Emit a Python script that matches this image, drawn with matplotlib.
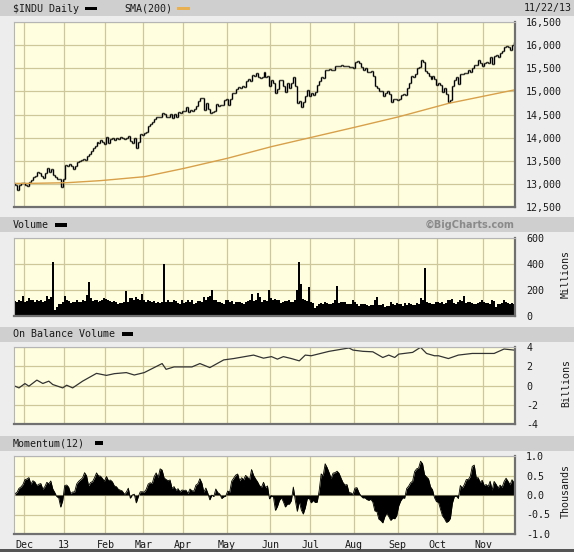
import numpy as np
import pandas as pd
import matplotlib
matplotlib.use("Agg")
import matplotlib.pyplot as plt
from matplotlib.patches import Rectangle

plt.rcParams["font.family"] = ["DejaVu Sans Mono"]
plt.rcParams["font.size"] = 7.2
plt.rcParams["axes.unicode_minus"] = False

# trading sessions 26 Nov 2012 .. 22 Nov 2013
holidays = ["2012-12-25", "2013-01-01", "2013-01-21", "2013-02-18",
            "2013-03-29", "2013-05-27", "2013-07-04", "2013-09-02"]
dates = pd.bdate_range("2012-11-26", "2013-11-22", freq="C", holidays=holidays)

# 12 closes before the first session (needed for momentum / first open)
prior_close = [12932.7, 12811.3, 12815.4, 12815.1, 12756.2, 12571.0,
               12542.4, 12588.3, 12796.0, 12788.5, 12836.9, 13009.7]

close = [
    # Nov
    12967.4, 12878.1, 12985.1, 13021.8, 13025.6,
    # Dec
    12965.6, 12951.8, 13034.5, 13074.0, 13155.1, 13169.9, 13248.4, 13245.5, 13170.7, 13135.0,
    13235.4, 13351.0, 13252.0, 13311.7, 13190.8, 13139.1, 13114.6, 13096.3, 12938.1, 13104.1,
    # Jan
    13412.6, 13391.4, 13435.2, 13384.3, 13328.9, 13390.5, 13471.2, 13488.4, 13507.3, 13534.9,
    13511.2, 13596.0, 13649.7, 13712.2, 13779.3, 13825.3, 13896.0, 13881.9, 13954.4, 13910.4, 13860.6,
    # Feb
    14009.8, 13880.1, 13979.3, 13986.5, 13944.1, 13993.0, 13971.2, 14018.7, 13982.9, 13973.4,
    13981.8, 14035.7, 13927.5, 13880.6, 14000.6, 13784.2, 13900.1, 14075.4, 14054.5,
    # Mar
    14089.7, 14127.8, 14253.8, 14296.2, 14329.5, 14397.1, 14447.3, 14450.1, 14455.3, 14539.1,
    14514.1, 14452.1, 14455.8, 14511.7, 14421.5, 14512.0, 14447.8, 14559.7, 14526.2, 14578.5,
    # Apr
    14572.9, 14662.0, 14550.4, 14606.1, 14565.3, 14613.5, 14673.5, 14802.2, 14865.1, 14865.1,
    14599.2, 14756.8, 14618.6, 14537.1, 14547.5, 14567.2, 14719.5, 14676.3, 14700.8, 14712.6,
    14818.8, 14839.8,
    # May
    14701.0, 14831.6, 14974.0, 14968.9, 15056.2, 15105.1, 15082.6, 15118.5, 15091.7, 15215.3,
    15275.7, 15233.2, 15354.4, 15335.3, 15387.6, 15307.2, 15294.5, 15303.1, 15409.4, 15302.8,
    15324.5, 15115.6,
    # Jun
    15254.0, 15177.5, 14960.6, 15040.6, 15248.1, 15238.6, 15122.0, 14995.2, 15176.1, 15070.2,
    15179.9, 15318.2, 15112.2, 14758.3, 14799.4, 14659.6, 14760.3, 14910.1, 15024.5, 14909.6,
    # Jul
    14975.0, 14932.4, 14988.4, 15135.8, 15224.7, 15300.3, 15291.7, 15460.9, 15464.3, 15484.3,
    15451.9, 15470.5, 15548.5, 15543.7, 15545.6, 15567.7, 15542.2, 15555.6, 15558.8, 15522.0,
    15520.6, 15499.5,
    # Aug
    15628.0, 15658.4, 15612.1, 15518.7, 15470.7, 15498.3, 15425.5, 15419.7, 15451.0, 15337.7,
    15112.2, 15081.5, 15010.7, 15003.0, 14897.6, 14963.7, 15010.5, 14946.5, 14776.1, 14824.5,
    14841.0, 14810.3,
    # Sep
    14834.0, 14930.9, 14937.5, 14922.5, 15063.1, 15191.1, 15326.6, 15300.6, 15376.1, 15494.8,
    15529.7, 15676.9, 15636.6, 15451.1, 15401.4, 15334.6, 15273.3, 15328.3, 15258.2, 15129.7,
    # Oct
    15191.7, 15133.1, 14996.5, 15072.6, 14936.2, 14776.5, 14803.0, 15126.1, 15237.1, 15301.3,
    15168.0, 15373.8, 15371.7, 15399.7, 15392.2, 15467.7, 15413.3, 15509.2, 15570.3, 15568.9,
    15680.4, 15618.8, 15545.8,
    # Nov
    15615.6, 15639.1, 15618.2, 15746.9, 15594.0, 15761.8, 15783.1, 15750.7, 15821.6, 15876.2,
    15961.7, 15976.0, 15967.0, 15900.8, 16010.0, 16064.8,
]

# volume, millions
volume = [
    115, 110, 125, 115, 155,
    110, 115, 140, 125, 120, 110, 120, 115, 120, 110, 115, 155, 130, 150, 415, 45, 70, 90, 95, 110,
    155, 120, 115, 100, 110, 110, 120, 105, 110, 120, 115, 160, 263, 140, 115, 120, 125, 110, 115, 120, 140,
    130, 120, 115, 110, 115, 105, 95, 100, 100, 105, 195, 110, 140, 135, 120, 145, 130, 120, 170,
    120, 110, 120, 115, 105, 115, 100, 105, 100, 110, 400, 110, 120, 105, 110, 120, 115, 100, 95, 120,
    100, 110, 125, 110, 120, 95, 100, 115, 115, 105, 150, 125, 145, 155, 200, 125, 120, 110, 105, 100, 95, 120,
    120, 110, 115, 95, 110, 105, 110, 100, 95, 105, 115, 120, 170, 115, 120, 176, 145, 105, 120, 125, 115, 200,
    140, 125, 130, 125, 120, 100, 110, 115, 115, 120, 110, 110, 120, 200, 415, 250, 130, 120, 115, 223,
    105, 100, 60, 75, 95, 100, 95, 110, 100, 90, 95, 100, 120, 233, 100, 105, 110, 105, 95, 90, 95, 120,
    110, 95, 80, 90, 90, 90, 85, 75, 85, 85, 120, 145, 85, 85, 95, 70, 80, 80, 110, 90, 85, 100,
    95, 90, 80, 100, 85, 100, 90, 85, 85, 100, 95, 140, 120, 370, 110, 100, 100, 90, 95, 110,
    105, 100, 105, 95, 100, 125, 120, 130, 100, 90, 110, 120, 115, 155, 100, 110, 105, 100, 95, 95, 100, 110, 120,
    105, 100, 100, 95, 125, 115, 70, 90, 95, 100, 125, 110, 100, 95, 100, 95,
]

# 200-day SMA (session index, value)
sma_day = [0, 9, 26, 43, 65, 85, 107, 129, 149, 171, 193, 218, 251]
sma_val = [13010, 13012, 13025, 13070, 13155, 13335, 13555, 13805, 14005, 14225, 14450, 14740, 15030]

# on balance volume, billions (session index, value)
obv_day = [0, 2, 5, 7, 11, 14, 17, 19, 24, 26, 29, 34, 41, 46, 50, 56, 60, 65, 74, 76, 80, 89, 93, 98,
           105, 110, 120, 125, 129, 132, 135, 139, 143, 146, 149, 158, 168, 170, 175, 180, 185, 188,
           191, 193, 200, 204, 207, 211, 213, 218, 223, 230, 237, 241, 246, 251]
obv_val = [-0.07, -0.25, 0.2, -0.07, 0.56, 0.21, 0.45, 0.1, -0.25, 0.03, -0.25, 0.45, 1.26, 1.05, 1.23,
           1.34, 1.09, 1.34, 2.28, 1.68, 1.93, 1.93, 2.28, 1.86, 2.66, 2.8, 3.16, 2.84, 3.0, 2.74, 3.0,
           2.8, 2.56, 3.16, 3.09, 3.55, 3.9, 3.68, 3.55, 3.5, 2.91, 3.16, 2.91, 3.26, 3.44, 3.97, 3.33,
           3.09, 3.09, 2.8, 3.16, 3.33, 3.33, 3.33, 3.79, 3.68]

month_labels = ["Dec", "13", "Feb", "Mar", "Apr", "May", "Jun", "Jul", "Aug", "Sep", "Oct", "Nov"]

n = len(dates)
x = np.arange(n)
full = np.array(prior_close + close)
c = full[12:]
o = full[11:-1]
mom = (full[12:] - full[:-12]) / 1000.0
month_pos = [i - 0.5 for i in range(1, n) if dates[i].month != dates[i - 1].month]

W, H = 574, 552
BG = "#ededed"
BAND = "#cfcfcf"
PLOT_BG = "#ffffe0"
GRID = "#cdc79a"
TXT = "#1a1a1a"

fig = plt.figure(figsize=(W / 100, H / 100), dpi=100, facecolor=BG)


def fx(px):
    return px / W


def fy(py):
    return 1 - py / H


def add_band(top, bottom, color=BAND):
    fig.add_artist(Rectangle((0, fy(bottom)), 1, (bottom - top) / H,
                             transform=fig.transFigure, color=color, lw=0, zorder=0))


def swatch(left, y, width, color):
    fig.add_artist(Rectangle((fx(left), fy(y + 1.8)), width / W, 3.6 / H,
                             transform=fig.transFigure, color=color, lw=0, zorder=3))


def panel(top, bottom, ylim, yticks):
    ax = fig.add_axes([fx(14), fy(bottom), fx(515 - 14), (bottom - top) / H])
    ax.set_facecolor(PLOT_BG)
    ax.set_xlim(-0.5, n - 0.5)
    ax.set_ylim(*ylim)
    ax.set_yticks(yticks)
    ax.set_xticks(month_pos)
    ax.set_xticklabels([])
    ax.yaxis.tick_right()
    ax.tick_params(length=0, pad=8, labelsize=7.2, colors=TXT)
    ax.grid(True, color=GRID, lw=0.9)
    ax.set_axisbelow(True)
    for s in ["left", "top"]:
        ax.spines[s].set_color("#b5b5b5")
        ax.spines[s].set_linewidth(0.8)
    for s in ["right", "bottom"]:
        ax.spines[s].set_color("#707070")
        ax.spines[s].set_linewidth(1.6)
    return ax


# header bands
add_band(0, 16)
add_band(217, 232)
add_band(327, 342)
add_band(436, 451)
add_band(549, 552, "#555555")

# price panel
ax1 = panel(22, 207, (12500, 16500), np.arange(12500, 16501, 500))
ax1.set_yticklabels([f"{v:,}" for v in range(12500, 16501, 500)])
lo = np.minimum(o, c)
hi = np.maximum(o, c)
ax1.vlines(x, lo, hi, color="k", lw=1.0)
ax1.hlines(c, x, x + 0.5, color="k", lw=1.0)
ax1.hlines(o, x - 0.5, x, color="k", lw=1.0)
ax1.plot(sma_day, sma_val, color="#d8a04a", lw=1.0)

# volume panel
ax2 = panel(238, 316, (0, 600), [0, 200, 400, 600])
ax2.bar(x, volume, width=1.0, color="k", lw=0)

# on balance volume
ax3 = panel(347, 424, (-4, 4), [-4, -2, 0, 2, 4])
ax3.plot(obv_day, obv_val, color="#333333", lw=0.9)

# momentum
ax4 = panel(456, 534, (-1, 1), [-1, -0.5, 0, 0.5, 1])
ax4.set_yticklabels(["-1.0", "-0.5", "0.0", "0.5", "1.0"])
ax4.fill_between(x, mom, 0, color="k", lw=0)
ax4.plot(x, mom, color="k", lw=0.6)
ax4.set_xticklabels(month_labels)
ax4.tick_params(axis="x", pad=4)

# header texts
fig.text(fx(13), fy(8.5), "$INDU Daily", color=TXT, va="center", ha="left")
swatch(85, 8.5, 12, "k")
fig.text(fx(124), fy(8.5), "SMA(200)", color=TXT, va="center", ha="left")
swatch(177, 8.5, 13, "#e8b050")
fig.text(fx(572), fy(8.5), "11/22/13", color=TXT, va="center", ha="right")

fig.text(fx(13), fy(225), "Volume", color=TXT, va="center", ha="left")
swatch(55, 225, 12, "k")
fig.text(fx(515), fy(225), "\u00a9BigCharts.com", color="#8a8a8a", va="center", ha="right",
         family="DejaVu Sans", weight="bold", size=7)

fig.text(fx(13), fy(334), "On Balance Volume", color=TXT, va="center", ha="left")
swatch(122, 334, 11, "k")

fig.text(fx(13), fy(443), "Momentum(12)", color=TXT, va="center", ha="left")
swatch(95, 443, 8, "k")

fig.text(fx(566), fy(274), "Millions", color=TXT, rotation=90, va="center", ha="center")
fig.text(fx(566), fy(383), "Billions", color=TXT, rotation=90, va="center", ha="center")
fig.text(fx(566), fy(491), "Thousands", color=TXT, rotation=90, va="center", ha="center")

fig.savefig("out.png", dpi=100, facecolor=BG)
